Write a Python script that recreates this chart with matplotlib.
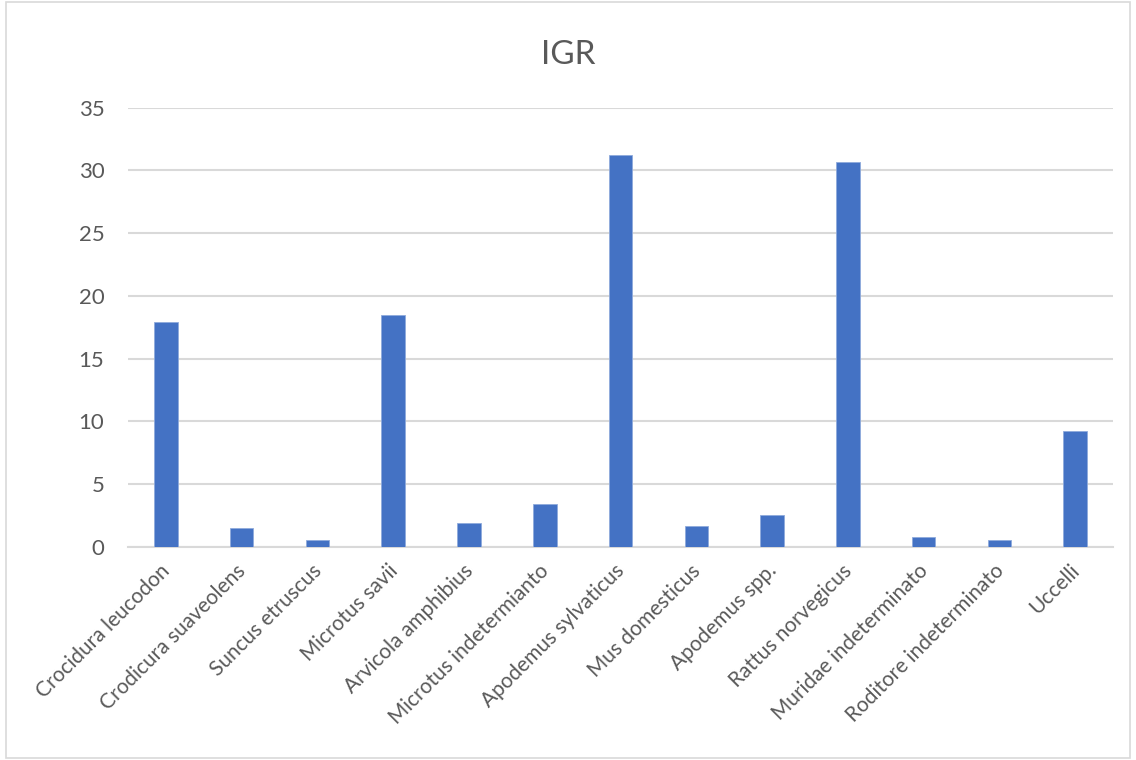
import matplotlib
matplotlib.use("Agg")
import matplotlib.pyplot as plt
from matplotlib.patches import Rectangle
from matplotlib.transforms import ScaledTranslation
import numpy as np

# Chart data
species = ["Crocidura leucodon", "Crodicura suaveolens", "Suncus etruscus",
           "Microtus savii", "Arvicola amphibius", "Microtus indetermianto",
           "Apodemus sylvaticus", "Mus domesticus", "Apodemus spp.",
           "Rattus norvegicus", "Muridae indeterminato", "Roditore indeterminato",
           "Uccelli"]
igr = [17.9, 1.52, 0.51, 18.48, 1.89, 3.40, 31.24, 1.65, 2.50, 30.70, 0.77, 0.56, 9.20]
yticks = [0, 5, 10, 15, 20, 25, 30, 35]

plt.rcParams['font.family'] = ['Lato', 'DejaVu Sans']
text_color = '#595959'

fig = plt.figure(figsize=(11.36, 7.6), dpi=100)
ax = fig.add_axes([0.1127, 0.2807, 0.8671, 0.5776])

x = np.arange(len(species))
ax.bar(x, igr, width=0.31, color='#4472C4', edgecolor='#8FAADC', linewidth=0.6, zorder=3)

ax.set_xlim(-0.5, len(species) - 0.5)
ax.set_ylim(0, 35)
ax.set_yticks(yticks)
ax.yaxis.grid(True, color='#D9D9D9', linewidth=1.5, zorder=0)
ax.tick_params(axis='y', length=0, pad=17, labelsize=16, labelcolor=text_color)
ax.tick_params(axis='x', length=0, pad=10)
ax.set_xticks(x)
ax.set_xticklabels(species, rotation=45, ha='right', rotation_mode='anchor',
                   fontsize=15, color=text_color)
# nudge the rotated labels a little to the left, like the original
shift = ScaledTranslation(-6 / 100, 0, fig.dpi_scale_trans)
for lab in ax.get_xticklabels():
    lab.set_transform(lab.get_transform() + shift)
for side in ['top', 'right', 'left']:
    ax.spines[side].set_visible(False)
ax.spines['bottom'].set_color('#D9D9D9')
ax.spines['bottom'].set_linewidth(1.5)

fig.text(0.5, 0.928, 'IGR', ha='center', va='center', fontsize=24, color=text_color)

# Chart area border
fig.patches.append(Rectangle((0.005, 0.003), 0.99, 0.994, transform=fig.transFigure,
                             fill=False, edgecolor='#D9D9D9', linewidth=1.2))

fig.savefig('out.png', dpi=100)
